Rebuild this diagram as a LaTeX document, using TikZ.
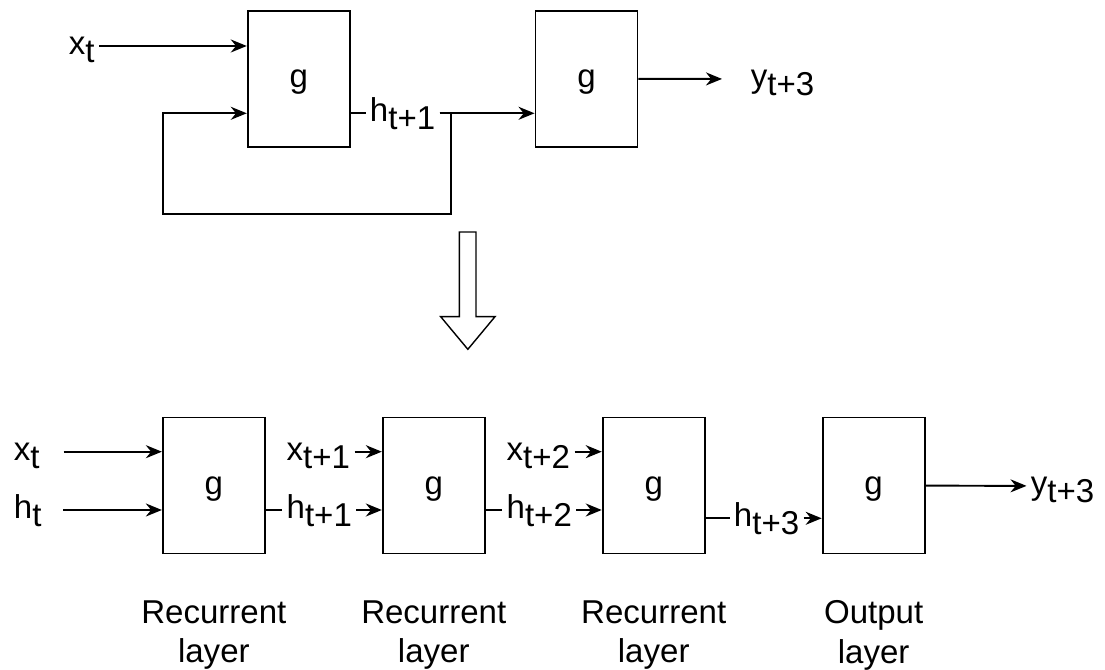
\documentclass[tikz,border=0pt]{standalone}
\usepackage{fontspec}
\setmainfont{Liberation Sans}
\usetikzlibrary{arrows.meta, positioning}

\newcommand{\lowsub}[1]{\raisebox{-4.4pt}{#1}}

\begin{document}
\begin{tikzpicture}[>={Stealth[length=0.32cm, width=0.26cm]}, line width=1.1pt,
    cell/.style={draw, minimum width=2.04cm, minimum height=2.72cm, inner sep=0pt,
        font=\fontsize{18.8pt}{22.5pt}\selectfont, text height=14.8pt, text depth=5pt},
    lbl/.style={anchor=west, inner xsep=0.07cm, inner ysep=0pt,
        font=\fontsize{18.8pt}{22.5pt}\selectfont, text height=14.8pt, text depth=5pt},
    layer/.style={align=center, inner sep=0pt, font=\fontsize{18.8pt}{22.56pt}\selectfont}]
    \useasboundingbox (0,0) rectangle (22.1,13.4);

    % Folded recurrent cell
    \node[cell] (g1) at (5.975,11.823) {g};
    \node[cell] (g2) at (11.73,11.823) {g};

    % Input
    \node[lbl] (xin) at (1.29,12.48) {x\lowsub{t}};
    \draw[->] (xin) -- (g1.west |- xin);

    % Hidden state and feedback loop
    \node[lbl] (hin) at (7.31,11.134) {h\lowsub{t+1}};
    \draw (g1.east |- hin) -- (hin);
    \draw[->] (hin) -- (g2.west |- hin);
    \coordinate (loopr) at (9.02,9.114);
    \coordinate (loopl) at (3.26,9.114);
    \draw[->] (hin.east) -| (loopr) -- (loopl) |- (g1.west |- hin);

    % Output
    \node[lbl] (yout) at (14.93,11.82) {y\lowsub{t+3}};
    \draw[->, shorten >=0.49cm] (g2) -- (yout);

    % Unrolling arrow
    \draw[line width=0.8pt] (9.186,8.76) -- (9.52,8.76) -- (9.52,7.066) -- (9.9,7.066)
        -- (9.357,6.414) -- (8.814,7.066) -- (9.186,7.066) -- cycle;

    % Unrolled cells
    \node[cell] (b1) at (4.277,3.69) {g};
    \node[cell, right=2.32cm of b1] (b2) {g};
    \node[cell, right=2.32cm of b2] (b3) {g};
    \node[cell, right=2.32cm of b3] (b4) {g};

    % First step
    \node[lbl] (x0) at (0.19,4.366) {x\lowsub{t}};
    \node[lbl] (h0) at (0.19,3.2) {h\lowsub{t}};
    \draw[->, shorten <=0.39cm] (x0) -- (b1.west |- x0);
    \draw[->, shorten <=0.35cm] (h0) -- (b1.west |- h0);

    % Second step
    \node[lbl] (x1) at (5.644,4.366) {x\lowsub{t+1}};
    \node[lbl] (h1) at (5.644,3.2) {h\lowsub{t+1}};
    \draw[->] (x1) -- (b2.west |- x1);
    \draw (b1.east |- h1) -- (h1);
    \draw[->] (h1) -- (b2.west |- h1);

    % Third step
    \node[lbl] (x2) at (10.044,4.366) {x\lowsub{t+2}};
    \node[lbl] (h2) at (10.044,3.2) {h\lowsub{t+2}};
    \draw[->] (x2) -- (b3.west |- x2);
    \draw (b2.east |- h2) -- (h2);
    \draw[->] (h2) -- (b3.west |- h2);

    % Output step
    \node[lbl] (h3) at (14.59,3.034) {h\lowsub{t+3}};
    \draw (b3.east |- h3) -- (h3);
    \draw[->] (h3) -- (b4.west |- h3);
    \node[lbl] (y3) at (20.53,3.68) {y\lowsub{t+3}};
    \draw[->] (b4) -- (y3);

    % Layer names
    \node[layer, below=0.9cm of b1] (l1) {Recurrent\\layer};
    \node[layer, below=0.9cm of b2] (l2) {Recurrent\\layer};
    \node[layer, below=0.9cm of b3] (l3) {Recurrent\\layer};
    \node[layer, below=0.9cm of b4] (l4) {Output\\layer};
\end{tikzpicture}
\end{document}
